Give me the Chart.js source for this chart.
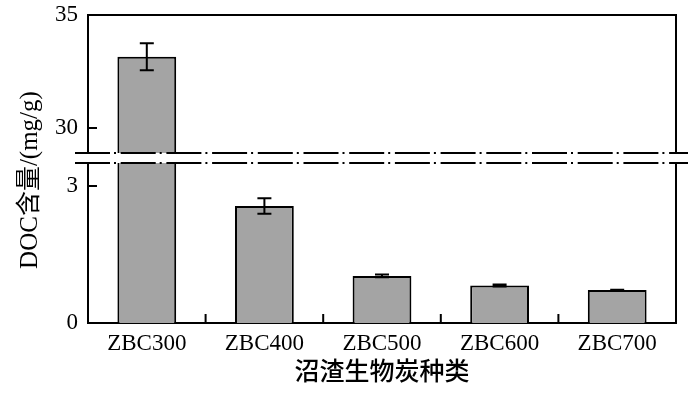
<!DOCTYPE html>
<html lang="zh">
<head>
<meta charset="UTF-8">
<title>DOC含量</title>
<script src="https://cdn.jsdelivr.net/npm/chart.js@4.4.1/dist/chart.umd.min.js"></script>
<style>
  html, body { margin: 0; padding: 0; background: #fff; }
</style>
</head>
<body>
<canvas id="chart" width="700" height="394"></canvas>
<script>
const categories = ['ZBC300', 'ZBC400', 'ZBC500', 'ZBC600', 'ZBC700'];
const docValues = [33.15, 2.56, 1.03, 0.82, 0.72];
const docErrors = [0.6, 0.17, 0.03, 0.02, 0.01];
const upperTicks = [30, 35];
const lowerTicks = [0, 3];
const xTitle = '沼渣生物炭种类';
const yTitle = 'DOC含量/(mg/g)';

// broken axis: upper part 28.67-35, lower part 0-3.61
const upperMin = 28.67, upperMax = 35;
const lowerMin = 0, lowerMax = 3.61;

const upperData = docValues.map(v => v > upperMin ? v : null);
const lowerData = docValues.map(v => Math.min(v, lowerMax));

const serif = '"Liberation Serif", "Noto Sans CJK SC"';
const tickFont = { family: serif, size: 23 };

function noPad(s) {
   s.paddingTop = 0; s.paddingBottom = 0;
   s.paddingLeft = 0; s.paddingRight = 0;
}

const errorBars = {
   id: 'errorBars',
   afterDatasetsDraw(chart) {
      const ctx = chart.ctx;
      const x = chart.scales.x;
      ctx.save();
      ctx.strokeStyle = '#000';
      ctx.lineWidth = 2;
      docValues.forEach((v, i) => {
         const s = v > upperMin ? chart.scales.yUp : chart.scales.yLow;
         const px = x.getPixelForValue(i);
         const y1 = s.getPixelForValue(v + docErrors[i]);
         const y2 = s.getPixelForValue(v - docErrors[i]);
         ctx.beginPath();
         ctx.moveTo(px, y1); ctx.lineTo(px, y2);
         ctx.moveTo(px - 7, y1); ctx.lineTo(px + 7, y1);
         ctx.moveTo(px - 7, y2); ctx.lineTo(px + 7, y2);
         ctx.stroke();
      });
      ctx.restore();
   }
};

const frame = {
   id: 'frame',
   afterDraw(chart) {
      const { ctx, chartArea: a, scales } = chart;
      ctx.save();
      ctx.strokeStyle = '#000';
      ctx.lineWidth = 2;
      ctx.beginPath();
      ctx.moveTo(a.left, a.top);
      ctx.lineTo(a.right, a.top);
      ctx.lineTo(a.right, a.bottom);
      // inward ticks
      upperTicks.concat(lowerTicks).forEach((v, k) => {
         const s = k < upperTicks.length ? scales.yUp : scales.yLow;
         const py = s.getPixelForValue(v);
         if (py <= a.top + 1 || py >= a.bottom - 1) return;
         ctx.moveTo(a.left, py); ctx.lineTo(a.left + 9, py);
      });
      for (let i = 0; i < categories.length - 1; i++) {
         const px = (scales.x.getPixelForValue(i) + scales.x.getPixelForValue(i + 1)) / 2;
         ctx.moveTo(px, a.bottom); ctx.lineTo(px, a.bottom - 9);
      }
      ctx.stroke();

      // break band
      const yb = scales.yUp.bottom;
      ctx.fillStyle = '#fff';
      ctx.fillRect(a.left - 12, yb - 5, a.right - a.left + 24, 10);
      ctx.setLineDash([35, 4, 2, 4.7]);
      ctx.beginPath();
      [yb - 5, yb + 5].forEach(y => {
         ctx.moveTo(a.left - 13, y);
         ctx.lineTo(a.right + 12, y);
      });
      ctx.stroke();
      ctx.setLineDash([]);

      // y title
      ctx.fillStyle = '#000';
      ctx.font = '25px ' + serif;
      ctx.textAlign = 'center';
      ctx.textBaseline = 'middle';
      ctx.translate(30, 180);
      ctx.rotate(-Math.PI / 2);
      ctx.fillText(yTitle, 0, 0);
      ctx.restore();
   }
};

const barStyle = {
   backgroundColor: '#a4a4a4',
   borderColor: '#000',
   borderWidth: 2,
   grouped: false,
   barPercentage: 0.5,
   categoryPercentage: 1
};

new Chart(document.getElementById('chart'), {
   type: 'bar',
   data: {
      labels: categories,
      datasets: [
         Object.assign({ label: 'upper', data: upperData, yAxisID: 'yUp' }, barStyle),
         Object.assign({ label: 'lower', data: lowerData, yAxisID: 'yLow' }, barStyle)
      ]
   },
   options: {
      responsive: false,
      animation: false,
      layout: { padding: { top: 15, right: 24, left: 0, bottom: 0 } },
      plugins: { legend: { display: false }, tooltip: { enabled: false } },
      scales: {
         x: {
            grid: { display: false, drawTicks: false },
            border: { color: '#000', width: 2 },
            ticks: { font: tickFont, color: '#000', padding: 7 },
            title: {
               display: true, text: xTitle, color: '#000',
               font: { family: serif, size: 25, weight: 500 },
               padding: { top: 0, bottom: 6 }
            },
            afterFit(s) { s.height = 71; noPad(s); }
         },
         yLow: {
            type: 'linear', position: 'left', stack: 'y', stackWeight: 165,
            min: lowerMin, max: lowerMax,
            afterBuildTicks(s) { s.ticks = lowerTicks.map(v => ({ value: v })); },
            grid: { display: false, drawTicks: false },
            border: { color: '#000', width: 2 },
            ticks: { font: tickFont, color: '#000', padding: 10 },
            afterFit(s) { s.width = 88; noPad(s); }
         },
         yUp: {
            type: 'linear', position: 'left', stack: 'y', stackWeight: 143,
            min: upperMin, max: upperMax,
            afterBuildTicks(s) { s.ticks = upperTicks.map(v => ({ value: v })); },
            grid: { display: false, drawTicks: false },
            border: { color: '#000', width: 2 },
            ticks: { font: tickFont, color: '#000', padding: 10 },
            afterFit(s) { s.width = 88; noPad(s); }
         }
      }
   },
   plugins: [errorBars, frame]
});
</script>
</body>
</html>
